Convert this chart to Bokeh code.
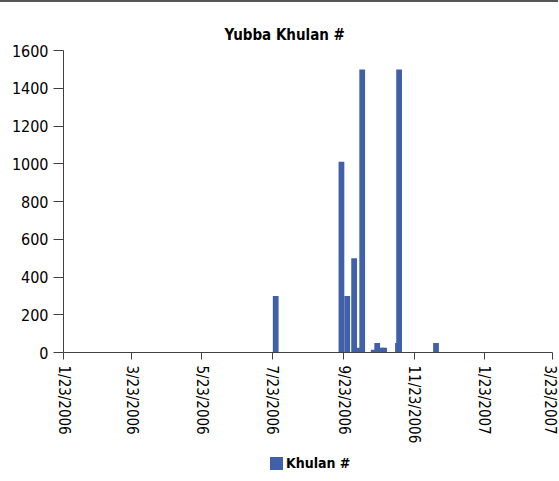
import pandas as pd
from bokeh.plotting import figure
from bokeh.layouts import column
from bokeh.models import (Range1d, FixedTicker, CustomJSTickFormatter, ColumnDataSource, Div)
from bokeh.embed import file_html
from bokeh.resources import INLINE

# ---- data ----
dates = ["2006-07-26", "2006-09-21", "2006-09-26", "2006-10-02", "2006-10-05",
         "2006-10-09", "2006-10-19", "2006-10-22", "2006-10-26", "2006-10-28",
         "2006-11-09", "2006-11-10", "2006-12-12"]
values = [300, 1010, 300, 500, 25, 1500, 15, 50, 25, 25, 50, 1500, 50]
tick_dates = ["2006-01-23", "2006-03-23", "2006-05-23", "2006-07-23",
              "2006-09-23", "2006-11-23", "2007-01-23", "2007-03-23"]
y_ticks = [0, 200, 400, 600, 800, 1000, 1200, 1400, 1600]
series_name = "Khulan #"
title_text = "Yubba Khulan #"

FONT = "'DejaVu Sans Condensed', 'Liberation Sans', sans-serif"
BAR = "#4061A9"
AXIS = "#404040"

x = pd.to_datetime(dates)
ticks_ms = [int(t.value // 10**6) for t in pd.to_datetime(tick_dates)]
source = ColumnDataSource(data=dict(x=x, y=values))

p = figure(x_axis_type="datetime",
           x_range=Range1d(start=ticks_ms[0], end=ticks_ms[-1]),
           y_range=Range1d(start=y_ticks[0], end=y_ticks[-1]),
           frame_width=489, frame_height=300,
           min_border_left=63, min_border_right=6, min_border_top=48, min_border_bottom=90,
           output_backend="svg", toolbar_location=None,
           background_fill_color=None, border_fill_color="white")
p.outline_line_color = None
p.xgrid.grid_line_color = None
p.ygrid.grid_line_color = None

r = p.vbar(x="x", top="y", width=5 * 24 * 3600 * 1000, source=source,
           fill_color=BAR, line_color=None, legend_label=series_name)
p.legend.visible = False

# title
p.title.text = title_text
p.title.text_font = FONT
p.title.text_font_size = "15px"
p.title.text_font_style = "bold"
p.title.text_color = "#000000"
p.title.align = "left"
p.title.offset = 161
p.title.standoff = 13

# x axis
xa = p.xaxis[0]
xa.ticker = FixedTicker(ticks=ticks_ms)
xa.formatter = CustomJSTickFormatter(code="""
const d = new Date(tick);
return (d.getUTCMonth() + 1) + "/" + d.getUTCDate() + "/" + d.getUTCFullYear();
""")
xa.major_label_orientation = "vertical"
xa.major_label_text_font = FONT
xa.major_label_text_font_size = "15px"
xa.major_label_text_color = "#000000"
xa.major_label_standoff = 6
xa.major_tick_out = 7
xa.major_tick_in = 0
xa.minor_tick_line_color = None
xa.axis_line_color = AXIS
xa.major_tick_line_color = AXIS

# y axis
ya = p.yaxis[0]
ya.ticker = FixedTicker(ticks=y_ticks)
ya.major_label_text_font = FONT
ya.major_label_text_font_size = "16px"
ya.major_label_text_color = "#000000"
ya.major_label_standoff = 5
ya.major_tick_out = 10
ya.major_tick_in = 0
ya.minor_tick_line_color = None
ya.axis_line_color = AXIS
ya.major_tick_line_color = AXIS

p.styles = {"border-top": "2px solid #555555"}

# legend (HTML key under the plot)
legend_html = (
    f'<div style="display:flex;align-items:center;white-space:nowrap;">'
    f'<span style="display:inline-block;width:13px;height:13px;background:{BAR};margin-right:3px;"></span>'
    f'<span style="font-family:{FONT.replace(chr(39), "&#39;")};font-weight:bold;font-size:14px;color:#000;">'
    f'{series_name}</span></div>'
)
legend_div = Div(text=legend_html, width=90, height=18,
                 styles={"position": "absolute", "left": "270px", "top": "453px", "margin": "0"})

layout = column(p, legend_div, spacing=0)

open("out.html", "w").write(file_html(layout, INLINE))
